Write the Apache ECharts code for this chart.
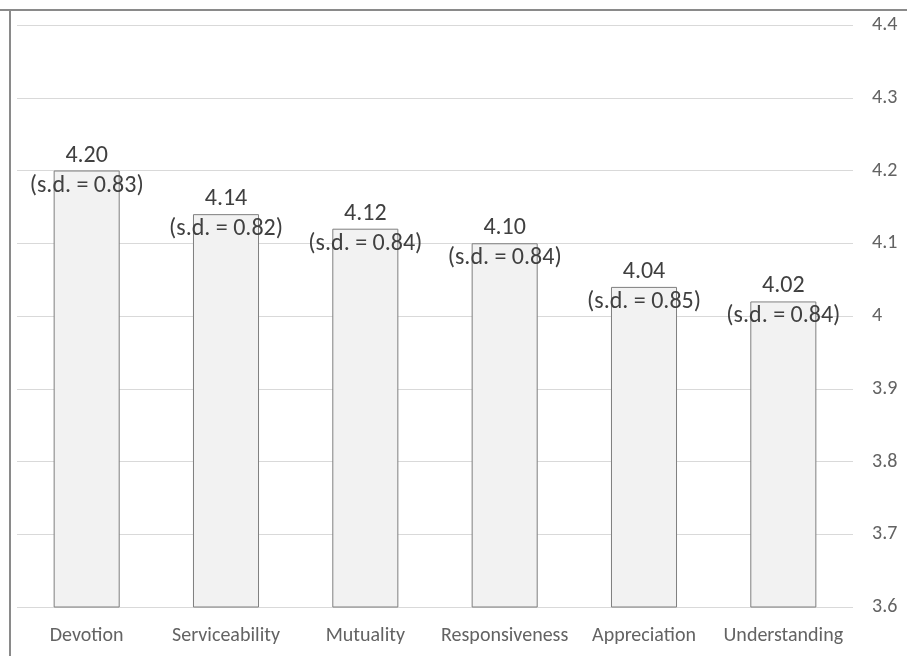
<!DOCTYPE html>
<html><head><meta charset="utf-8">
<script src="https://cdn.jsdelivr.net/npm/echarts@6/dist/echarts.min.js"></script>
<style>html,body{margin:0;padding:0;background:#fff}#c{width:907px;height:656px}</style>
</head><body><div id="c"></div>
<script>
const categories = ['Devotion','Serviceability','Mutuality','Responsiveness','Appreciation','Understanding'];
const means = [4.20, 4.14, 4.12, 4.10, 4.04, 4.02];
const sds = [0.83, 0.82, 0.84, 0.84, 0.85, 0.84];
const yMin = 3.6, yMax = 4.4, yStep = 0.1;
const FONT = 'Carlito, "Liberation Sans Narrow", "Noto Sans", sans-serif';
const chart = echarts.init(document.getElementById('c'));
chart.setOption({
  animation: false,
  grid: {left: 17, right: 54, top: 25, bottom: 49},
  graphic: [
    {type:'line', shape:{x1:0,y1:10,x2:907,y2:10}, style:{stroke:'#8a8a8a', lineWidth:2}},
    {type:'line', shape:{x1:10,y1:10,x2:10,y2:656}, style:{stroke:'#8a8a8a', lineWidth:2}}
  ],
  xAxis: {
    type: 'category', data: categories,
    axisLine: {show: false}, axisTick: {show: false},
    axisLabel: {color: '#636363', fontFamily: FONT, fontSize: 20, margin: 19, interval: 0}
  },
  yAxis: {
    type: 'value', position: 'right', min: yMin, max: yMax, interval: yStep,
    axisLine: {show: false}, axisTick: {show: false},
    splitLine: {lineStyle: {color: '#d9d9d9', width: 1}},
    axisLabel: {color: '#636363', fontFamily: FONT, fontSize: 20, margin: 19, align: 'left'}
  },
  series: [{
    type: 'bar',
    data: means,
    barCategoryGap: '52.6%',
    itemStyle: {color: '#f2f2f2', borderColor: '#7f7f7f', borderWidth: 1},
    label: {
      show: true, position: 'top', distance: 0, offset: [0, 30],
      color: '#404040', fontFamily: FONT, fontSize: 24, lineHeight: 30,
      formatter: p => means[p.dataIndex].toFixed(2) + '\n(s.d. = ' + sds[p.dataIndex].toFixed(2) + ')'
    }
  }]
});
</script></body></html>
